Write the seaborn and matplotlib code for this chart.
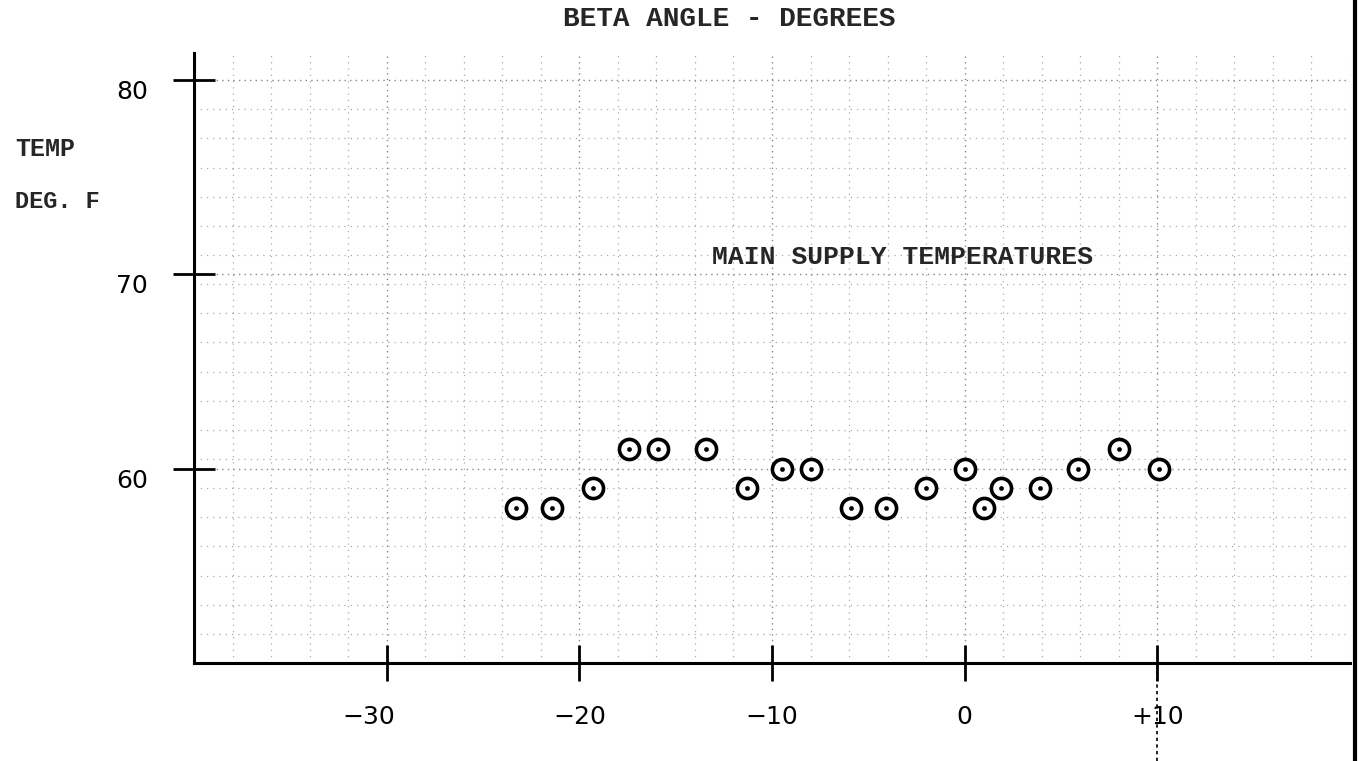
import matplotlib
matplotlib.use("Agg")
import matplotlib.pyplot as plt
import matplotlib.transforms as mtransforms
import numpy as np
import pandas as pd
import seaborn as sns

# beta angle (deg) and main supply temperature (deg F)
beta_angle = [-23.3, -21.4, -19.3, -17.4, -15.9, -13.4, -11.3, -9.5, -8.0,
              -5.9, -4.1, -2.0, 0.0, 1.0, 1.9, 3.9, 5.9, 8.0, 10.1]
supply_temp = [58, 58, 59, 61, 61, 61, 59, 60, 60,
               58, 58, 59, 60, 58, 59, 59, 60, 61, 60]

x_ticks = [-30, -20, -10, 0, 10]
x_tick_labels = ["\u221230", "\u221220", "\u221210", "0", "+10"]
y_ticks = [60, 70, 80]
y_tick_labels = ["60", "70", "80"]

df = pd.DataFrame({"beta": beta_angle, "temp": supply_temp})

sns.set_style("white")
plt.rcParams['font.family'] = ['DejaVu Sans']
mono = "Liberation Mono"

fig = plt.figure(figsize=(13.59, 7.61), dpi=100)
ax = fig.add_axes([194 / 1359, 1 - 663 / 761, (1350 - 194) / 1359, (663 - 53) / 761])

# faint graph-paper grid
ax.set_xticks(np.arange(-40, 21, 2), minor=True)
ax.set_yticks(np.arange(50, 82, 1.5), minor=True)
ax.grid(which='minor', color='#aaaaaa', linestyle=(0, (1, 4)), linewidth=0.9)
ax.grid(which='major', color='#888888', linestyle=(0, (1, 3)), linewidth=1.0)

sns.scatterplot(data=df, x="beta", y="temp", ax=ax, marker='o', s=210,
                facecolor='white', edgecolor='black', linewidth=2.6, zorder=3)
sns.scatterplot(data=df, x="beta", y="temp", ax=ax, marker='o', s=10,
                color='black', edgecolor='black', zorder=4)

ax.set_xlim(-40, 20)
ax.set_ylim(50, 81.4)
ax.set_xticks(x_ticks)
ax.set_xticklabels(x_tick_labels, fontsize=18)
ax.set_yticks(y_ticks)
ax.set_yticklabels(y_tick_labels, fontsize=18)
ax.tick_params(axis='x', which='major', bottom=True, direction='inout', length=26,
               width=2, pad=17, colors='black')
ax.tick_params(axis='y', which='major', left=True, direction='inout', length=30,
               width=2, pad=18, colors='black')
ax.tick_params(which='minor', bottom=False, left=False)
for lbl in ax.get_yticklabels():
    lbl.set_verticalalignment('top')
# the -30 label sits a little left of its tick
shift = mtransforms.ScaledTranslation(-18 / 100, 0, fig.dpi_scale_trans)
first = ax.get_xticklabels()[0]
first.set_transform(first.get_transform() + shift)
ax.set_xlabel("")
ax.set_ylabel("")

for side in ['top', 'right']:
    ax.spines[side].set_visible(False)
for side in ['left', 'bottom']:
    ax.spines[side].set_color('black')
    ax.spines[side].set_linewidth(2.2)

# dotted line below +10 tick
ax.axvline(10, ymin=-0.16, ymax=0.0, color='black', linestyle=(0, (2, 2)),
           linewidth=1.2, clip_on=False)

fig.text(729 / 1359, 1 - 19 / 761, "BETA ANGLE - DEGREES", family=mono,
         fontsize=20, ha='center', va='center', fontweight='bold')
fig.text(15 / 1359, 1 - 149 / 761, "TEMP", family=mono, fontsize=18,
         ha='left', va='center', fontweight='bold')
fig.text(15 / 1359, 1 - 201 / 761, "DEG. F", family=mono, fontsize=17,
         ha='left', va='center', fontweight='bold')
fig.text(712 / 1359, 1 - 257 / 761, "MAIN SUPPLY TEMPERATURES", family=mono,
         fontsize=19, ha='left', va='center', fontweight='bold')

# right border of the scanned sheet
fig.add_artist(plt.Line2D([1355 / 1359, 1355 / 1359], [0, 1], color='black',
                          linewidth=3, transform=fig.transFigure))

fig.savefig("out.png", dpi=100)
